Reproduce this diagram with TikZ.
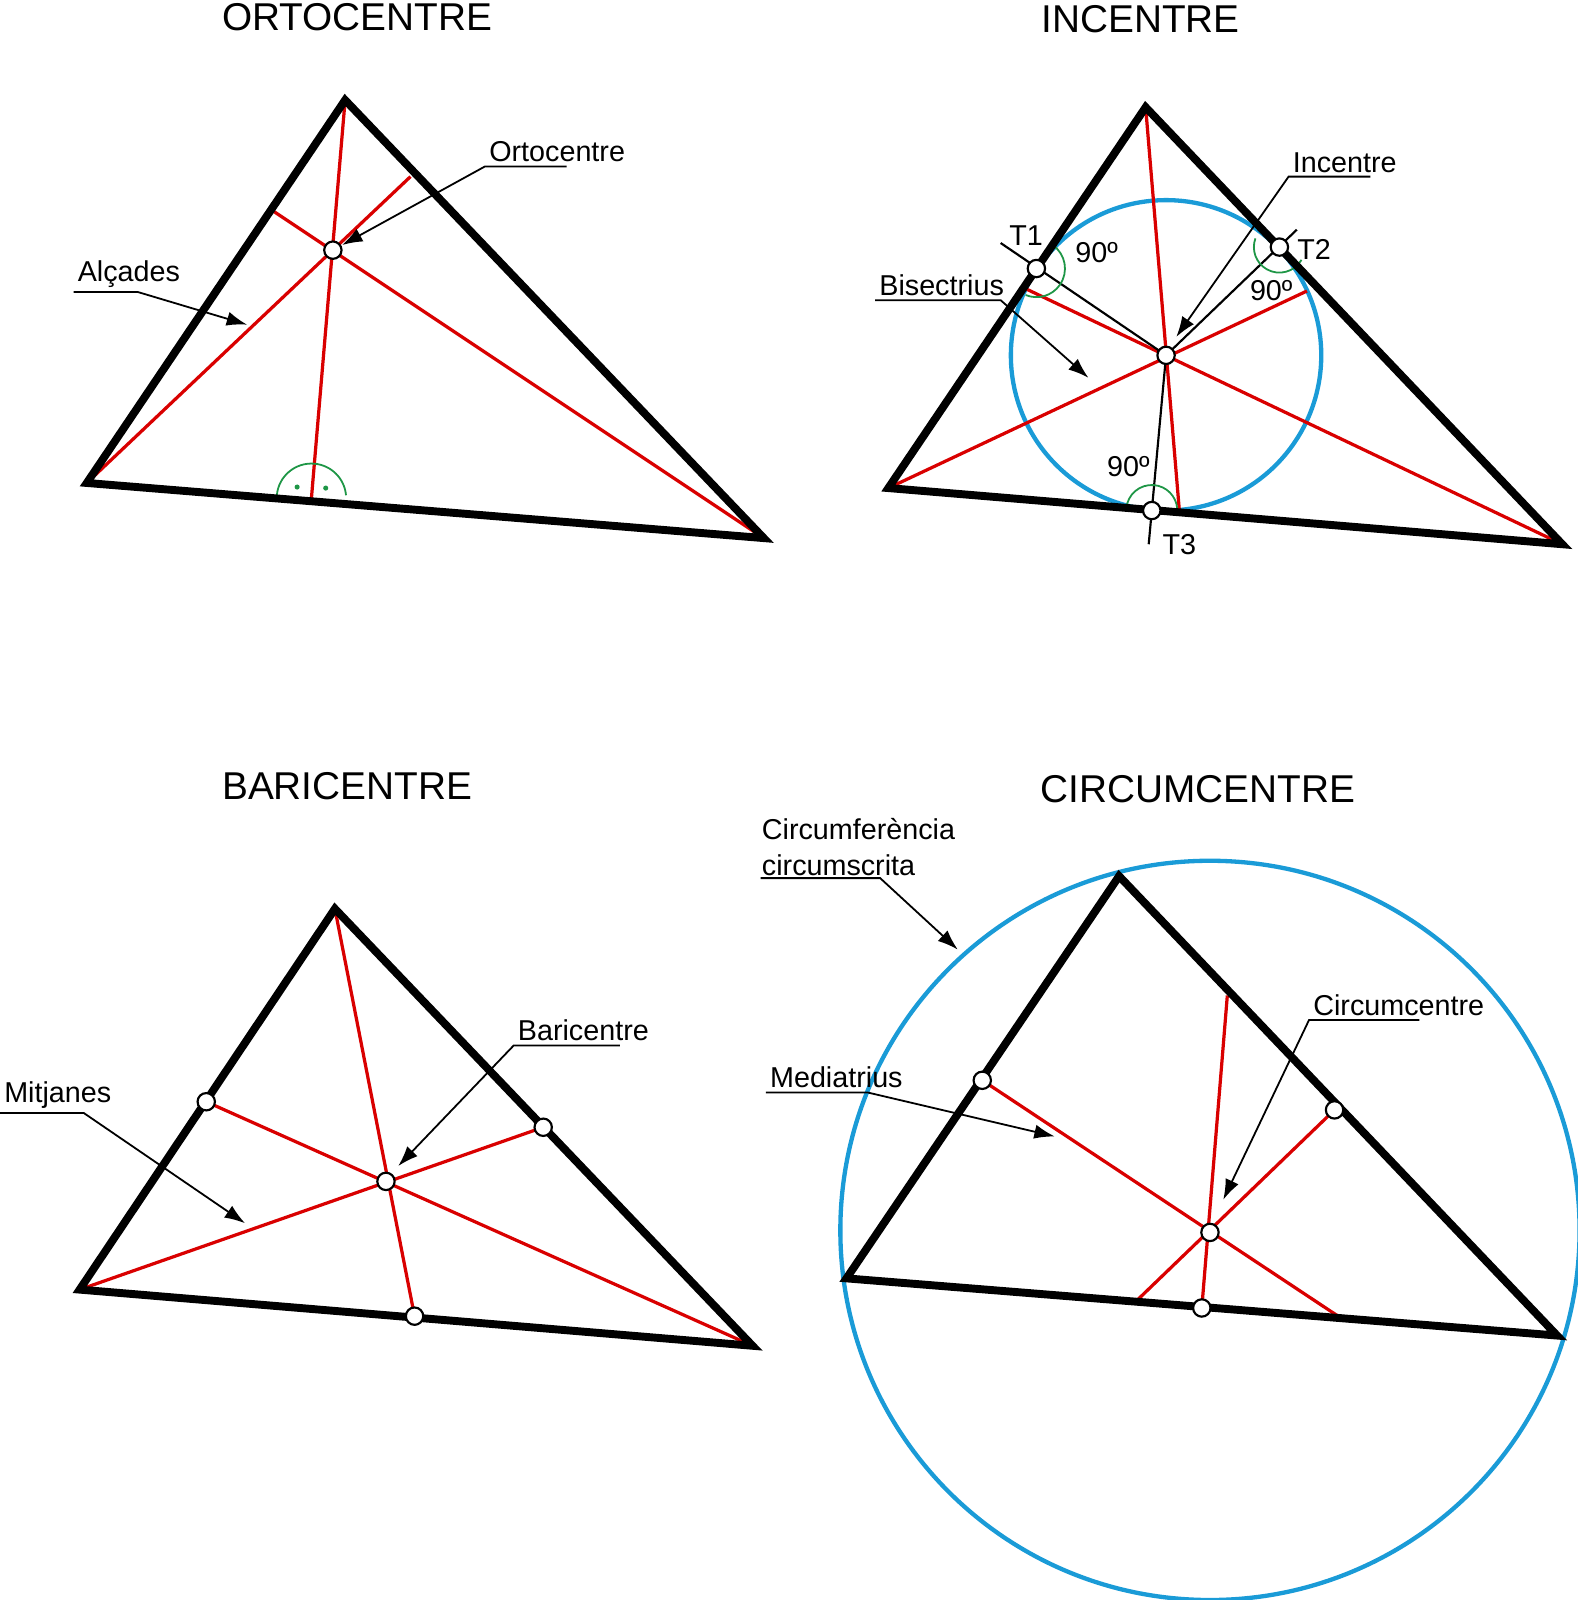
\documentclass[tikz,border=0pt]{standalone}
\usepackage{fontspec}
\setmainfont{Liberation Sans}
\usetikzlibrary{arrows.meta}
\definecolor{cblue}{RGB}{26,155,215}
\definecolor{cgreen}{RGB}{30,150,70}
\tikzset{
  tri/.style={line width=2.2pt,line join=miter},
  rline/.style={red!85!black,line width=0.9pt},
  pt/.style={circle,draw,fill=white,inner sep=0pt,minimum size=0.17cm,line width=0.6pt},
  ttl/.style={font=\fontsize{10.8}{13}\selectfont},
  lbl/.style={font=\fontsize{8}{10}\selectfont,inner sep=1pt},
  lead/.style={line width=0.5pt,-{Latex[length=0.2cm,width=0.14cm]}},
  rangle/.style={cgreen,line width=0.5pt},
}
\begin{document}
\begin{tikzpicture}[x=0.01cm,y=-0.01cm]
\useasboundingbox (0,0) rectangle (1545,1567);
% ortocentre
\node[ttl] at (350,17) {ORTOCENTRE};
\coordinate (A1) at (85,473); \coordinate (B1) at (338,98); \coordinate (C1) at (748,527);
\coordinate (H) at (326,245);
\draw[rline] (A1) -- (402,173);
\draw[rline] (C1) -- (268,207);
\draw[rline] (B1) -- (305,488);
\draw[rangle] (305,488) ++(185:34) arc[start angle=185,end angle=355,radius=34];
\fill[cgreen] (291,477) circle (2.5) (319,478) circle (2.5);
\draw[tri] (A1) -- (B1) -- (C1) -- cycle;
\node[pt] (h) at (H) {};
\node[lbl,anchor=south west] (ort) at (475,163) {Ortocentre};
\draw[lead] (555,163) -- (ort.south west) -- (335,240);
\node[lbl,anchor=south west] (alc) at (72,286) {Alçades};
\draw[lead] (alc.south west) -- (135,286) -- (242,318);
% incentre
\node[ttl] at (1117,19) {INCENTRE};
\coordinate (A2) at (870,478); \coordinate (B2) at (1122,105); \coordinate (C2) at (1530,533);
\coordinate (I) at (1142,348);
\draw[cblue,line width=1.2pt] (I) circle (152);
\draw[rline] (A2) -- (1280,285);
\draw[rline] (C2) -- (1005,283);
\draw[rline] (B2) -- (1155,500);
\draw[line width=0.6pt] (I) -- (980,238) (I) -- (1270,225) (I) -- (1125,533);
\draw[rangle] (1015,263) ++(-55:28) arc[start angle=-55,end angle=112,radius=28];
\draw[rangle] (1253,242) ++(30:25) arc[start angle=30,end angle=200,radius=25];
\draw[rangle] (1128,500) ++(185:25) arc[start angle=185,end angle=355,radius=25];
\draw[tri] (A2) -- (B2) -- (C2) -- cycle;
\node[pt] (t1) at (1015,263) {};
\node[pt] (t2) at (1253,242) {};
\node[pt] (t3) at (1128,500) {};
\node[pt] (i) at (I) {};
\node[lbl] at (1005,231) {T1};
\node[lbl] at (1287,244) {T2};
\node[lbl] at (1155,533) {T3};
\node[lbl] at (1074,247) {90º};
\node[lbl] at (1245,285) {90º};
\node[lbl] at (1105,457) {90º};
\node[lbl,anchor=south west] (inc) at (1262,173) {Incentre};
\draw[lead] (1342,173) -- (inc.south west) -- (1152,330);
\node[lbl,anchor=south west] (bis) at (857,294) {Bisectrius};
\draw[lead] (bis.south west) -- (980,294) -- (1066,370);
% baricentre
\node[ttl] at (340,770) {BARICENTRE};
\coordinate (A3) at (78,1263); \coordinate (B3) at (328,890); \coordinate (C3) at (737,1318);
\coordinate (G) at (378,1157);
\draw[rline] (A3) -- (532,1104) (B3) -- (406,1289) (C3) -- (202,1079);
\draw[tri] (A3) -- (B3) -- (C3) -- cycle;
\node[pt] at (202,1079) {};
\node[pt] at (532,1104) {};
\node[pt] at (406,1289) {};
\node[pt] (g) at (G) {};
\node[lbl,anchor=south west] (bar) at (503,1024) {Baricentre};
\draw[lead] (607,1024) -- (bar.south west) -- (390,1142);
\node[lbl,anchor=south west] (mit) at (0,1090) {Mitjanes};
\draw[lead] (mit.south west) -- (82,1090) -- (240,1198);
% circumcentre
\node[ttl] at (1173,773) {CIRCUMCENTRE};
\coordinate (A4) at (829,1252); \coordinate (B4) at (1096,858); \coordinate (C4) at (1525,1308);
\coordinate (O) at (1185,1207);
\draw[cblue,line width=1.2pt] (1185,1205) circle (362);
\draw[rline] (962,1058) -- (1312,1290) (1307,1087) -- (1112,1275) (1177,1281) -- (1202,975);
\draw[tri] (A4) -- (B4) -- (C4) -- cycle;
\node[pt] at (962,1058) {};
\node[pt] at (1307,1087) {};
\node[pt] at (1177,1281) {};
\node[pt] (o) at (O) {};
\node[lbl,anchor=south west,align=left] (cir) at (742,862) {Circumferència\\circumscrita};
\draw[lead] (745,860) -- (862,860) -- (938,930);
\node[lbl,anchor=south west] (cc) at (1282,999) {Circumcentre};
\draw[lead] (1390,999) -- (cc.south west) -- (1198,1175);
\node[lbl,anchor=south west] (med) at (750,1070) {Mediatrius};
\draw[lead] (med.south west) -- (850,1070) -- (1033,1113);
\end{tikzpicture}
\end{document}
